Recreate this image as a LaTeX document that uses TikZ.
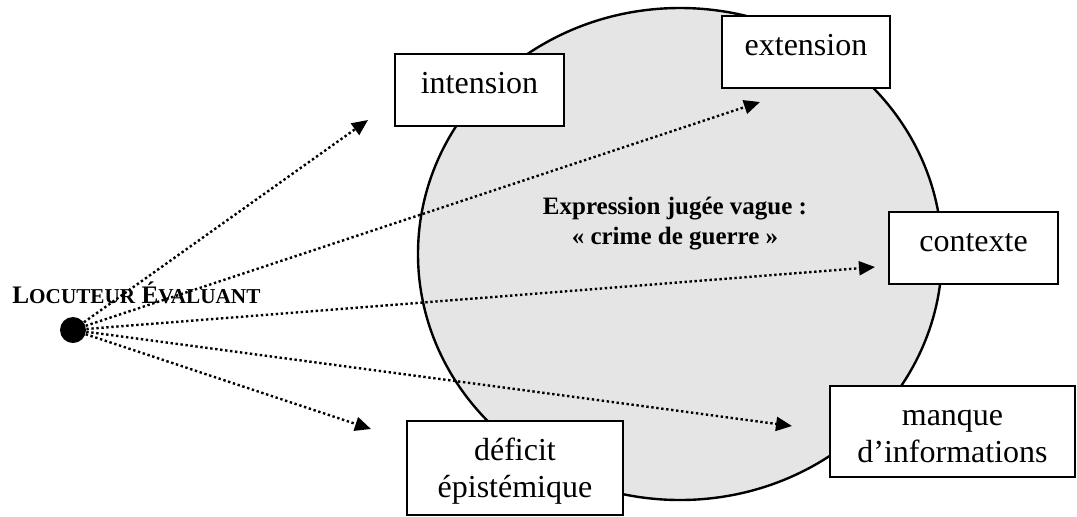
\documentclass[tikz,border=0pt]{standalone}
\usepackage{fontspec}
\setmainfont{Liberation Serif}
\usetikzlibrary{arrows.meta}

\tikzset{
  boite/.style={draw, line width=1.2pt, fill=white, inner sep=0pt, anchor=north,
    font=\fontsize{16}{18.5}\selectfont, align=center, text height=19.5pt},
  fleche/.style={line width=1.2pt, dash pattern=on 1.2pt off 1.3pt,
    -{Triangle[length=8pt,width=7pt]}}
}
\newcommand{\petitcap}[1]{{\fontsize{10.6}{12}\selectfont #1}}

\begin{document}
\begin{tikzpicture}[x=0.5pt,y=-0.5pt]
\useasboundingbox (0,0) rectangle (1077,516);

% la zone grise
\draw[line width=1.2pt, fill=black!10] (680,254) ellipse (262 and 246);

\node[font=\bfseries\fontsize{12.5}{15}\selectfont, align=center] (expr) at (675,224)
  {Expression jugée vague :\\« crime de guerre »};

% les boites
\node[boite, text width=84.5pt, text depth=16.5pt] (intension) at (479.5,53) {intension};
\node[boite, text width=84pt, text depth=16.5pt] (extension) at (806,15) {extension};
\node[boite, text width=84.5pt, text depth=16.5pt] (contexte) at (973.5,211) {contexte};
\node[boite, text width=108pt, text depth=27.5pt] (deficit) at (515,420) {déficit\\épistémique};
\node[boite, text width=122.5pt, text depth=26pt] (manque) at (952.5,385) {manque\\d’informations};

% le locuteur
\node[anchor=base west, inner sep=0pt, font=\bfseries\fontsize{12.6}{15}\selectfont] (locLabel) at (12,303)
  {L\petitcap{OCUTEUR} É\petitcap{VALUANT}};
\node[circle, fill=black, minimum size=13pt, inner sep=0pt] (loc) at (73,330) {};

\coordinate (pInt) at (368,120);
\coordinate (pExt) at (760,102);
\coordinate (pCon) at (875,267);
\coordinate (pMan) at (792,426);
\coordinate (pDef) at (371,429);

\draw[fleche] (loc) -- (pInt);
\draw[fleche] (loc) -- (pExt);
\draw[fleche] (loc) -- (pCon);
\draw[fleche] (loc) -- (pMan);
\draw[fleche] (loc) -- (pDef);

\end{tikzpicture}
\end{document}
